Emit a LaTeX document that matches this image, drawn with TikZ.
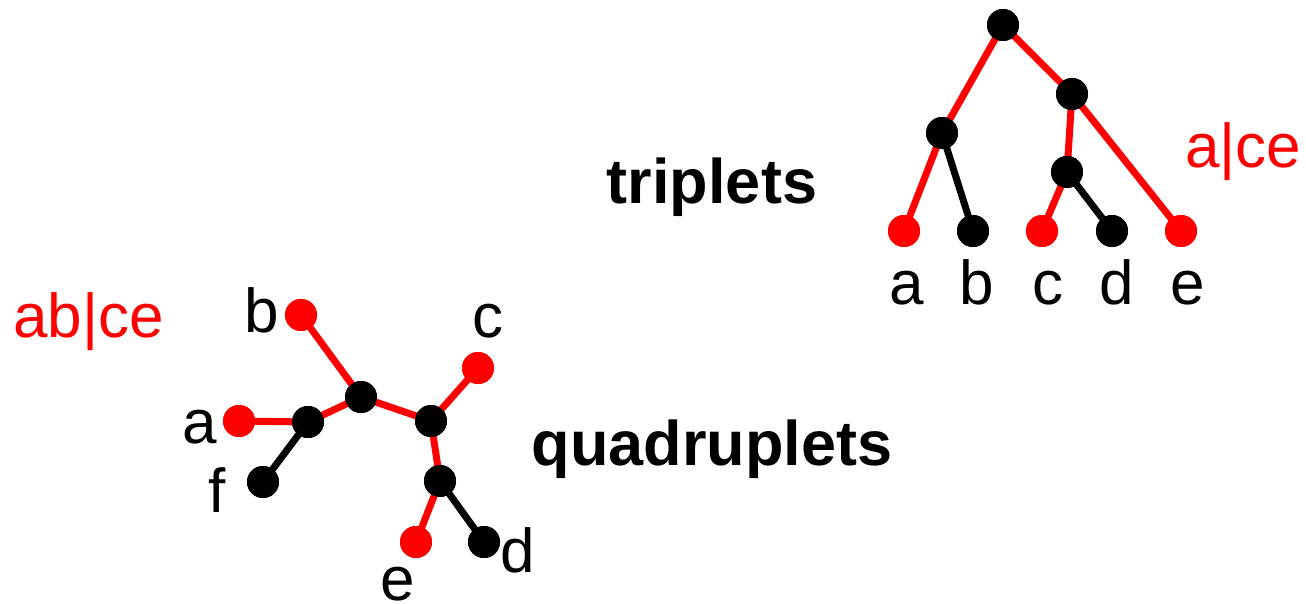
\documentclass[tikz,border=0pt]{standalone}
\usepackage{fontspec}
\setmainfont{Liberation Sans}
\definecolor{tred}{RGB}{255,0,0}
\begin{document}
\begin{tikzpicture}[x=1pt,y=-1pt,
  dotb/.style={circle,fill=black,minimum size=32pt,inner sep=0pt},
  dotr/.style={circle,fill=tred,minimum size=32pt,inner sep=0pt},
  er/.style={draw=tred,line width=7pt},
  eb/.style={draw=black,line width=7pt},
  lbl/.style={anchor=base,inner sep=0pt,font=\fontsize{62}{70}\selectfont},
  lblr/.style={lbl,text=tred},
  title/.style={anchor=base,inner sep=0pt,font=\fontsize{63}{70}\selectfont\bfseries}]
\useasboundingbox (0,0) rectangle (1306,603);
% triplet tree
\node[dotb] (r) at (1003,25) {};
\node[dotb] (l) at (942,133) {};
\node[dotb] (rt) at (1072,94) {};
\node[dotb] (rr) at (1067,172) {};
\node[dotr] (ta) at (904,231) {};
\node[dotb] (tb) at (973,231) {};
\node[dotr] (tc) at (1042,231) {};
\node[dotb] (td) at (1112,231) {};
\node[dotr] (te) at (1181,231) {};
\draw[er] (r.center) -- (l.center);
\draw[er] (l.center) -- (ta.center);
\draw[eb] (l.center) -- (tb.center);
\draw[er] (r.center) -- (rt.center);
\draw[er] (rt.center) -- (rr.center);
\draw[er] (rr.center) -- (tc.center);
\draw[eb] (rr.center) -- (td.center);
\draw[er] (rt.center) -- (te.center);
\foreach \n/\c in {r/black,l/black,rt/black,rr/black,ta/tred,tb/black,tc/tred,td/black,te/tred}
  \fill[\c] (\n) circle (16pt);
\node[lbl] (tla) at (907,304) {a};
\node[lbl] (tlb) at (977,304) {b};
\node[lbl] (tlc) at (1048,304) {c};
\node[lbl] (tld) at (1117,304) {d};
\node[lbl] (tle) at (1188,304) {e};
\node[lblr,anchor=base west] (ace) at (1185,167) {a|ce};
\node[title] (trip) at (712,203) {triplets};
% quadruplet tree
\node[dotr] (qb) at (301,315) {};
\node[dotb] (n1) at (361,397) {};
\node[dotb] (n2) at (308,422) {};
\node[dotr] (qa) at (239,421) {};
\node[dotb] (qf) at (263,482) {};
\node[dotb] (n3) at (431,421) {};
\node[dotr] (qc) at (478,368) {};
\node[dotb] (n4) at (440,481) {};
\node[dotr] (qe) at (416,542) {};
\node[dotb] (qd) at (484,542) {};
\draw[er] (qb.center) -- (n1.center);
\draw[er] (n1.center) -- (n2.center);
\draw[er] (n2.center) -- (qa.center);
\draw[eb] (n2.center) -- (qf.center);
\draw[er] (n1.center) -- (n3.center);
\draw[er] (n3.center) -- (qc.center);
\draw[er] (n3.center) -- (n4.center);
\draw[er] (n4.center) -- (qe.center);
\draw[eb] (n4.center) -- (qd.center);
\foreach \n/\c in {qb/tred,n1/black,n2/black,qa/tred,qf/black,n3/black,qc/tred,n4/black,qe/tred,qd/black}
  \fill[\c] (\n) circle (16pt);
\node[lbl] (qlb) at (262,332) {b};
\node[lbl] (qla) at (200,443) {a};
\node[lbl] (qlf) at (217,512) {f};
\node[lbl] (qlc) at (488,337) {c};
\node[lbl] (qle) at (398,600) {e};
\node[lbl] (qld) at (518,572) {d};
\node[lblr,anchor=base west] (abce) at (13,337) {ab|ce};
\node[title] (quad) at (712,465) {quadruplets};
\end{tikzpicture}
\end{document}
